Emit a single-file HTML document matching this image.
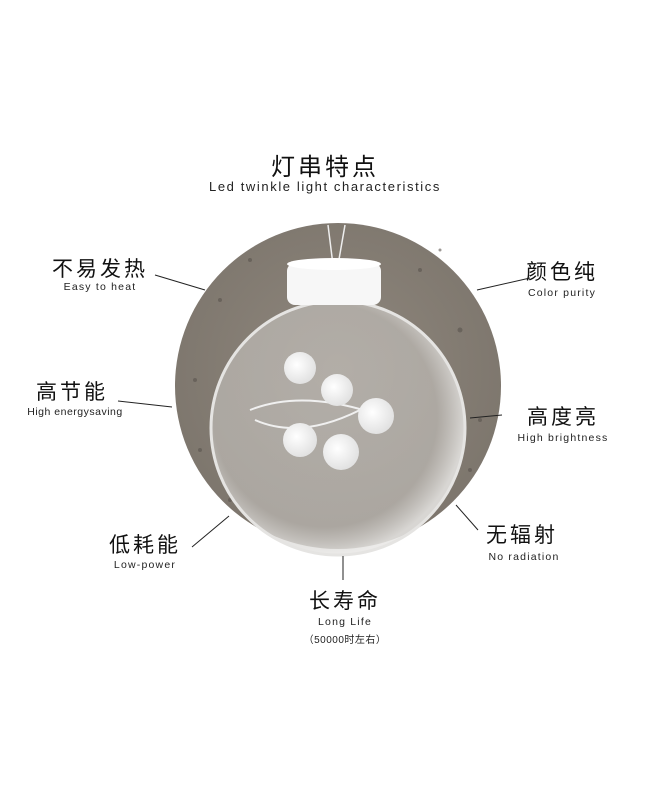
<!DOCTYPE html>
<html><head><meta charset="utf-8"><style>
body{margin:0;width:650px;height:800px;background:#fff;position:relative;overflow:hidden;font-family:"Liberation Sans","Noto Sans CJK SC",sans-serif;color:#111}
.t{position:absolute;white-space:nowrap;text-align:center}
.cn{font-size:21px;letter-spacing:3px}
.en{font-size:10.5px;color:#222;letter-spacing:1.2px}
</style></head><body>
<svg width="650" height="800" style="position:absolute;left:0;top:0">
<defs>
<radialGradient id="disk" cx="50%" cy="45%" r="55%"><stop offset="0" stop-color="#8f877d"/><stop offset="1" stop-color="#7d766d"/></radialGradient>
<radialGradient id="ball" cx="45%" cy="45%" r="55%"><stop offset="0" stop-color="#d0cecb" stop-opacity="0.55"/><stop offset="0.8" stop-color="#c8c5c1" stop-opacity="0.6"/><stop offset="1" stop-color="#e8e7e5" stop-opacity="0.85"/></radialGradient>
<radialGradient id="bulb" cx="40%" cy="40%" r="60%"><stop offset="0" stop-color="#fff"/><stop offset="1" stop-color="#e2e2e2"/></radialGradient>
</defs>
<circle cx="338" cy="386" r="163" fill="url(#disk)"/>
<g fill="#5a544e" opacity="0.6">
<circle cx="220" cy="300" r="2"/><circle cx="250" cy="260" r="2"/><circle cx="420" cy="270" r="2"/><circle cx="460" cy="330" r="2.5"/><circle cx="480" cy="420" r="2"/><circle cx="195" cy="380" r="2"/><circle cx="200" cy="450" r="2"/><circle cx="440" cy="250" r="1.5"/><circle cx="470" cy="470" r="2"/><circle cx="230" cy="500" r="2"/>
</g>
<line x1="328" y1="225" x2="333" y2="265" stroke="#eee" stroke-width="1.5"/>
<line x1="345" y1="225" x2="338" y2="265" stroke="#eee" stroke-width="1.5"/>
<circle cx="338" cy="428" r="127" fill="url(#ball)" stroke="#e5e4e2" stroke-width="3"/>
<rect x="287" y="263" width="94" height="42" rx="8" fill="#f7f7f7"/>
<ellipse cx="334" cy="264" rx="47" ry="6" fill="#fff"/>
<path d="M250 410 Q300 390 370 412 M255 420 Q300 440 360 410" stroke="#f0f0f0" fill="none" stroke-width="2"/>
<circle cx="300" cy="368" r="16" fill="url(#bulb)"/>
<circle cx="337" cy="390" r="16" fill="url(#bulb)"/>
<circle cx="376" cy="416" r="18" fill="url(#bulb)"/>
<circle cx="300" cy="440" r="17" fill="url(#bulb)"/>
<circle cx="341" cy="452" r="18" fill="url(#bulb)"/>
<g stroke="#222" stroke-width="1">
<line x1="155" y1="275" x2="205" y2="290"/>
<line x1="477" y1="290" x2="530" y2="278"/>
<line x1="118" y1="401" x2="172" y2="407"/>
<line x1="470" y1="418" x2="502" y2="415"/>
<line x1="192" y1="547" x2="229" y2="516"/>
<line x1="456" y1="505" x2="478" y2="530"/>
<line x1="343" y1="556" x2="343" y2="580"/>
</g>
</svg>
<div class="t" style="left:225px;top:147px;width:200px;font-size:24px;letter-spacing:3px">灯串特点</div>
<div class="t en" style="left:150px;top:179px;width:350px;font-size:13px;letter-spacing:1.6px">Led twinkle light characteristics</div>
<div class="t cn" style="left:40px;top:253px;width:120px">不易发热</div>
<div class="t en" style="left:40px;top:281px;width:120px">Easy to heat</div>
<div class="t cn" style="left:512px;top:256px;width:100px">颜色纯</div>
<div class="t en" style="left:505px;top:287px;width:114px">Color purity</div>
<div class="t cn" style="left:22px;top:376px;width:100px">高节能</div>
<div class="t en" style="left:10px;top:406px;width:130px;letter-spacing:0.5px">High energysaving</div>
<div class="t cn" style="left:508px;top:401px;width:110px">高度亮</div>
<div class="t en" style="left:498px;top:432px;width:130px">High brightness</div>
<div class="t cn" style="left:95px;top:529px;width:100px">低耗能</div>
<div class="t en" style="left:90px;top:559px;width:110px">Low-power</div>
<div class="t cn" style="left:472px;top:519px;width:100px">无辐射</div>
<div class="t en" style="left:464px;top:551px;width:120px">No radiation</div>
<div class="t cn" style="left:293px;top:585px;width:104px">长寿命</div>
<div class="t en" style="left:295px;top:616px;width:100px">Long Life</div>
<div class="t en" style="left:280px;top:631px;width:130px;font-size:10px;letter-spacing:0.5px">（50000时左右）</div>
</body></html>
